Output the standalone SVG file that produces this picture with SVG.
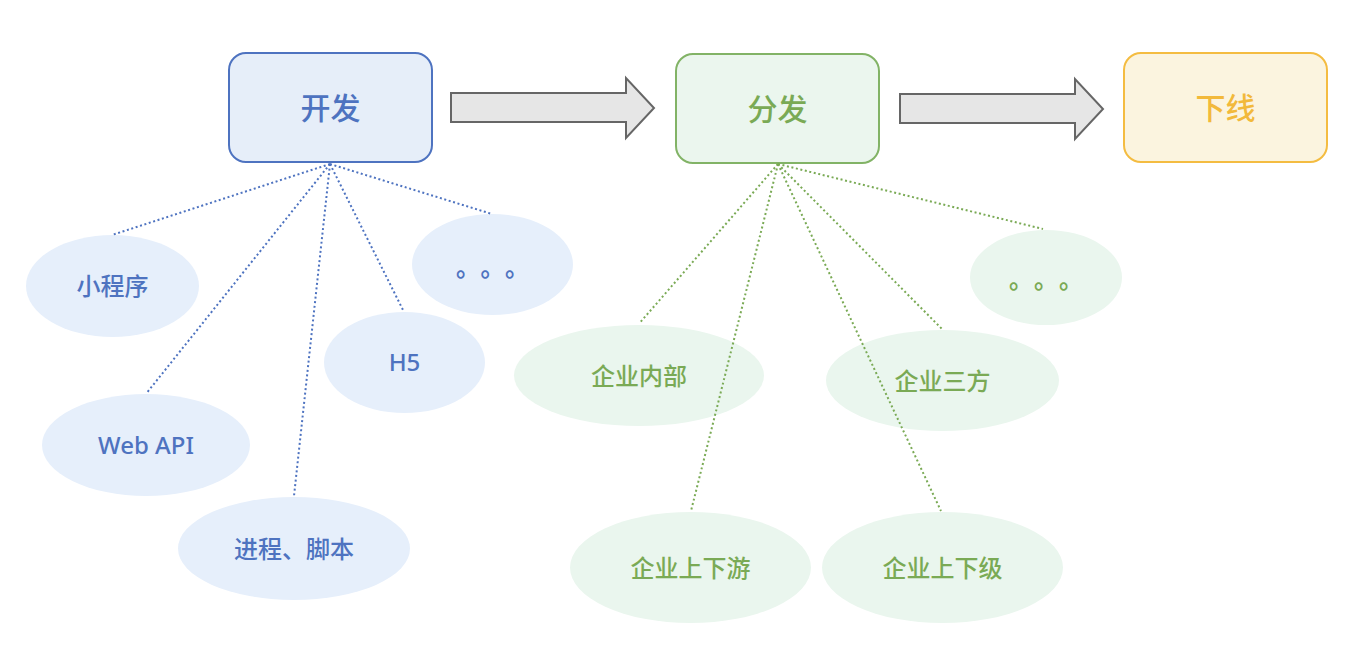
<svg xmlns="http://www.w3.org/2000/svg" width="1358" height="662" viewBox="0 0 1358 662">
<defs>
<style>
text{font-family:"Noto Sans","Noto Sans CJK SC",sans-serif;text-anchor:middle;font-weight:500;}
.bb{fill:#E6EEF9;stroke:#4E73C0;stroke-width:2;}
.gb{fill:#EBF6EE;stroke:#82B366;stroke-width:2;}
.yb{fill:#FBF4DF;stroke:#F4BC41;stroke-width:2;}
.be{fill:#E6EFFB;}
.ge{fill:#EAF6EE;}
.bt{fill:#4E73C0;}
.gt{fill:#7AAA55;}
.yt{fill:#F2B93B;}
.title{font-size:30px;}
.lbl{font-size:24px;}
.dots{font-family:"Noto Sans CJK SC",sans-serif;font-size:24px;text-anchor:start;font-weight:700;}
.arrow{fill:#E6E6E6;stroke:#666666;stroke-width:2;stroke-linejoin:miter;}
.bl{stroke:#4E73C0;stroke-width:2;stroke-dasharray:2 2.6;fill:none;}
.gl{stroke:#7AAA55;stroke-width:2;stroke-dasharray:2 2.6;fill:none;}
</style>
</defs>
<rect width="1358" height="662" fill="#FFFFFF"/>

<g id="node-kaifa">
<rect class="bb" x="229" y="53" width="203" height="109" rx="17"/>
<text class="bt title" x="330.5" y="118.5">开发</text>
</g>
<g id="node-fenfa">
<rect class="gb" x="676" y="54" width="203" height="109" rx="17"/>
<text class="gt title" x="777.5" y="119.5">分发</text>
</g>
<g id="node-xiaxian">
<rect class="yb" x="1124" y="53" width="203" height="109" rx="17"/>
<text class="yt title" x="1225.5" y="118.5">下线</text>
</g>

<g id="arrow-1">
<polygon class="arrow" points="451,93 626,93 626,78 654,108 626,138 626,122 451,122"/>
</g>
<g id="arrow-2">
<polygon class="arrow" points="900,94 1075,94 1075,79 1103,109 1075,139 1075,123 900,123"/>
</g>

<g id="node-xiaochengxu">
<ellipse class="be" cx="112.5" cy="286" rx="86.5" ry="51"/>
<text class="bt lbl" x="112.5" y="295">小程序</text>
</g>
<g id="node-webapi">
<ellipse class="be" cx="146" cy="445" rx="104" ry="51"/>
<text class="bt lbl" x="146" y="453.5">Web API</text>
</g>
<g id="node-jincheng">
<ellipse class="be" cx="294" cy="548.5" rx="116" ry="51.5"/>
<text class="bt lbl" x="294" y="557.5">进程、脚本</text>
</g>
<g id="node-h5">
<ellipse class="be" cx="404.5" cy="362.5" rx="80.5" ry="50.5"/>
<text class="bt lbl" x="404.5" y="371">H5</text>
</g>
<g id="node-blue-more">
<ellipse class="be" cx="492.5" cy="264.5" rx="80.5" ry="50.5"/>
<text class="bt dots" x="456 480.5 505" y="276">。。。</text>
</g>

<g id="node-neibu">
<ellipse class="ge" cx="639" cy="375.5" rx="125" ry="50.5"/>
<text class="gt lbl" x="639" y="384.5">企业内部</text>
</g>
<g id="node-sanfang">
<ellipse class="ge" cx="942.5" cy="380.5" rx="116.5" ry="50.5"/>
<text class="gt lbl" x="942.5" y="389.5">企业三方</text>
</g>
<g id="node-green-more">
<ellipse class="ge" cx="1046" cy="277.5" rx="76" ry="47.5"/>
<text class="gt dots" x="1009 1034 1059" y="288">。。。</text>
</g>
<g id="node-shangxiayou">
<ellipse class="ge" cx="690.5" cy="567.5" rx="120.5" ry="55.5"/>
<text class="gt lbl" x="690.5" y="576.5">企业上下游</text>
</g>
<g id="node-shangxiaji">
<ellipse class="ge" cx="942.5" cy="567.5" rx="120.5" ry="55.5"/>
<text class="gt lbl" x="942.5" y="576.5">企业上下级</text>
</g>

<g id="connectors">
<line class="bl" x1="330" y1="164" x2="112" y2="235"/>
<line class="bl" x1="330" y1="164" x2="147.5" y2="392"/>
<line class="bl" x1="330" y1="164" x2="294" y2="496"/>
<line class="bl" x1="330" y1="164" x2="404" y2="312"/>
<line class="bl" x1="330" y1="164" x2="492" y2="214"/>
<line class="gl" x1="778" y1="164" x2="640.5" y2="322"/>
<line class="gl" x1="778" y1="164" x2="691" y2="511"/>
<line class="gl" x1="778" y1="164" x2="941" y2="511"/>
<line class="gl" x1="778" y1="164" x2="942" y2="329"/>
<line class="gl" x1="778" y1="164" x2="1043" y2="229"/>
</g>
</svg>
